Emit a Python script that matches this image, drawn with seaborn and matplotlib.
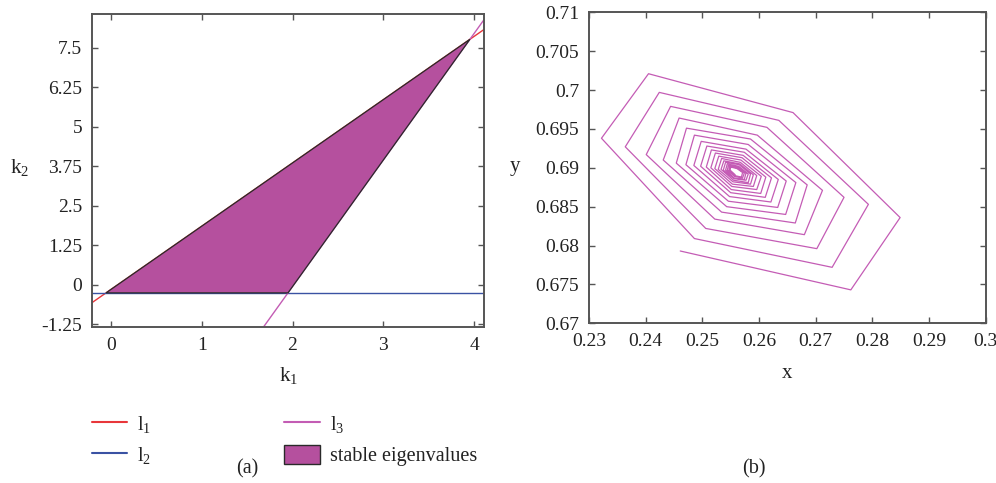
import numpy as np
import pandas as pd
import matplotlib
matplotlib.use("Agg")
import matplotlib.pyplot as plt
from matplotlib.patches import Polygon, Patch
from matplotlib.lines import Line2D
import seaborn as sns

# ---- panel (a): stability boundaries in the (k1, k2) plane, k2 = slope*k1 + intercept
line_names = ["l1", "l2", "l3"]
line_slopes = [2.0, 0.0, 4.0]
line_intercepts = [-0.14, -0.25, -8.05]
line_colors = ["#e8363a", "#3a52a3", "#c35cb4"]

k1_ticks = [0, 1, 2, 3, 4]
k2_ticks = [-1.25, 0, 1.25, 2.5, 3.75, 5, 6.25, 7.5]
k2_ticklabels = ["-1.25", "0", "1.25", "2.5", "3.75", "5", "6.25", "7.5"]
k1_range = (-0.21, 4.11)
k2_range = (-1.33, 8.57)

# ---- panel (b): trajectory converging to the fixed point
traj_x = [0.2461, 0.2762, 0.2849, 0.2660, 0.2405, 0.2322, 0.2486,
          0.2729, 0.2793, 0.2635, 0.2424, 0.2364, 0.2506,
          0.2702, 0.2750, 0.2614, 0.2444, 0.2401, 0.2522,
          0.2680, 0.2712, 0.2597, 0.2459, 0.2431, 0.2534,
          0.2664, 0.2685, 0.2585, 0.2472, 0.2454, 0.2543,
          0.2647, 0.2665, 0.2581, 0.2486, 0.2471, 0.2546,
          0.2633, 0.2648, 0.2577, 0.2498, 0.2485, 0.2548,
          0.2621, 0.2634, 0.2574, 0.2508, 0.2497, 0.2550,
          0.2611, 0.2622, 0.2572, 0.2516, 0.2507, 0.2551,
          0.2603, 0.2612, 0.2570, 0.2523, 0.2515, 0.2552,
          0.2596, 0.2604, 0.2568, 0.2529, 0.2522, 0.2553,
          0.2590, 0.2596, 0.2567, 0.2534, 0.2528, 0.2554,
          0.2585, 0.2590, 0.2566, 0.2538, 0.2533, 0.2555,
          0.2581, 0.2585, 0.2565, 0.2541, 0.2537, 0.2556,
          0.2577, 0.2581, 0.2564, 0.2544, 0.2541, 0.2556,
          0.2574, 0.2577, 0.2563, 0.2546, 0.2544, 0.2557,
          0.2571, 0.2574, 0.2562, 0.2548, 0.2547, 0.2557,
          0.2569, 0.2571, 0.2561, 0.2550, 0.2549, 0.2558]
traj_y = [0.6793, 0.6743, 0.6836, 0.6971, 0.7021, 0.6938, 0.6809,
          0.6772, 0.6853, 0.6961, 0.6997, 0.6927, 0.6822,
          0.6796, 0.6862, 0.6952, 0.6979, 0.6917, 0.6834,
          0.6814, 0.6871, 0.6942, 0.6964, 0.6910, 0.6843,
          0.6829, 0.6878, 0.6937, 0.6951, 0.6906, 0.6850,
          0.6840, 0.6881, 0.6930, 0.6942, 0.6904, 0.6857,
          0.6849, 0.6883, 0.6924, 0.6934, 0.6903, 0.6863,
          0.6856, 0.6885, 0.6920, 0.6928, 0.6902, 0.6868,
          0.6862, 0.6887, 0.6916, 0.6923, 0.6901, 0.6872,
          0.6867, 0.6888, 0.6913, 0.6919, 0.6900, 0.6876,
          0.6872, 0.6889, 0.6910, 0.6915, 0.6899, 0.6879,
          0.6876, 0.6890, 0.6907, 0.6912, 0.6898, 0.6882,
          0.6879, 0.6891, 0.6905, 0.6909, 0.6898, 0.6884,
          0.6881, 0.6892, 0.6904, 0.6907, 0.6897, 0.6886,
          0.6884, 0.6892, 0.6902, 0.6905, 0.6897, 0.6887,
          0.6885, 0.6893, 0.6901, 0.6903, 0.6897, 0.6889,
          0.6887, 0.6893, 0.6900, 0.6902, 0.6897, 0.6890,
          0.6888, 0.6894, 0.6899, 0.6901, 0.6897, 0.6891]
x_ticks = [0.23, 0.24, 0.25, 0.26, 0.27, 0.28, 0.29, 0.30]
x_ticklabels = ["0.23", "0.24", "0.25", "0.26", "0.27", "0.28", "0.29", "0.3"]
y_ticks = [0.67, 0.675, 0.68, 0.685, 0.69, 0.695, 0.70, 0.705, 0.71]
y_ticklabels = ["0.67", "0.675", "0.68", "0.685", "0.69", "0.695", "0.7", "0.705", "0.71"]

fill_color = "#b5509e"
traj_color = "#c45cb5"
spine_color = "#555555"
text_color = "#222222"

sns.set_style("ticks")
plt.rcParams["font.family"] = ["Liberation Serif", "DejaVu Serif"]
plt.rcParams["mathtext.fontset"] = "custom"
plt.rcParams["mathtext.rm"] = "Liberation Serif"
plt.rcParams["mathtext.it"] = "Liberation Serif"

W, H = 996, 483
fig = plt.figure(figsize=(W / 100, H / 100), dpi=100)


def frac(px, py):
    return px / W, 1 - py / H


axA = fig.add_axes([92 / W, 1 - 327 / H, (484 - 92) / W, (327 - 14) / H])
axB = fig.add_axes([589 / W, 1 - 323.3 / H, (985.7 - 589) / W, (323.3 - 12.3) / H])

# boundary lines
k1 = np.linspace(k1_range[0], k1_range[1], 200)
rows = []
for name, m, b in zip(line_names, line_slopes, line_intercepts):
    rows.append(pd.DataFrame({"k1": k1, "k2": m * k1 + b, "line": name}))
lines_df = pd.concat(rows, ignore_index=True)
sns.lineplot(data=lines_df, x="k1", y="k2", hue="line", palette=dict(zip(line_names, line_colors)),
             sort=False, estimator=None, linewidth=1.0, legend=False, ax=axA)


# stable region: triangle bounded by the three lines
def meet(i, j):
    x = (line_intercepts[j] - line_intercepts[i]) / (line_slopes[i] - line_slopes[j])
    return x, line_slopes[i] * x + line_intercepts[i]


tri = [meet(0, 1), meet(1, 2), meet(0, 2)]
axA.add_patch(Polygon(tri, closed=True, facecolor=fill_color, edgecolor="#2a2a2a",
                      linewidth=0.9, zorder=3))

axA.set_xlim(*k1_range)
axA.set_ylim(*k2_range)
axA.set_xticks(k1_ticks)
axA.set_yticks(k2_ticks)
axA.set_yticklabels(k2_ticklabels)
axA.set_xlabel("")
axA.set_ylabel("")

# trajectory
traj_df = pd.DataFrame({"x": traj_x, "y": traj_y})
sns.lineplot(data=traj_df, x="x", y="y", sort=False, estimator=None, color=traj_color,
             linewidth=0.9, ax=axB)
axB.set_xlim(0.23, 0.30)
axB.set_ylim(0.67, 0.71)
axB.set_xticks(x_ticks)
axB.set_xticklabels(x_ticklabels)
axB.set_yticks(y_ticks)
axB.set_yticklabels(y_ticklabels)
axB.set_xlabel("")
axB.set_ylabel("")

for ax in (axA, axB):
    for s in ax.spines.values():
        s.set_visible(True)
        s.set_color(spine_color)
        s.set_linewidth(1.4)
    ax.tick_params(direction="in", top=True, right=True, length=4, width=1.0,
                   color=spine_color, labelsize=14, labelcolor=text_color, pad=7)

# axis labels
fs = 15
fig.text(*frac(20, 168), r"$\mathrm{k_2}$", ha="center", va="center", fontsize=fs, color=text_color)
fig.text(*frac(289, 376), r"$\mathrm{k_1}$", ha="center", va="center", fontsize=fs, color=text_color)
fig.text(*frac(515, 167), "y", ha="center", va="center", fontsize=fs, color=text_color)
fig.text(*frac(787, 373), "x", ha="center", va="center", fontsize=fs, color=text_color)
fig.text(*frac(247, 469), "(a)", ha="center", va="center", fontsize=14.5, color=text_color)
fig.text(*frac(754, 469), "(b)", ha="center", va="center", fontsize=14.5, color=text_color)

# legend
handles = [
    Line2D([], [], color=line_colors[0], lw=1.5),
    Line2D([], [], color=line_colors[1], lw=1.5),
    Line2D([], [], color=line_colors[2], lw=1.5),
    Patch(facecolor=fill_color, edgecolor="#2a2a2a", linewidth=1.0),
]
labels = [r"$\mathrm{l_1}$", r"$\mathrm{l_2}$", r"$\mathrm{l_3}$", "stable eigenvalues"]
fig.legend(handles, labels, ncol=2, loc="upper left", bbox_to_anchor=frac(74, 396),
           frameon=False, fontsize=14.5, handlelength=1.75, handleheight=1.05,
           handletextpad=0.5, columnspacing=6.6, labelspacing=0.48, labelcolor=text_color)

fig.savefig("out.png", dpi=100, facecolor="white")
